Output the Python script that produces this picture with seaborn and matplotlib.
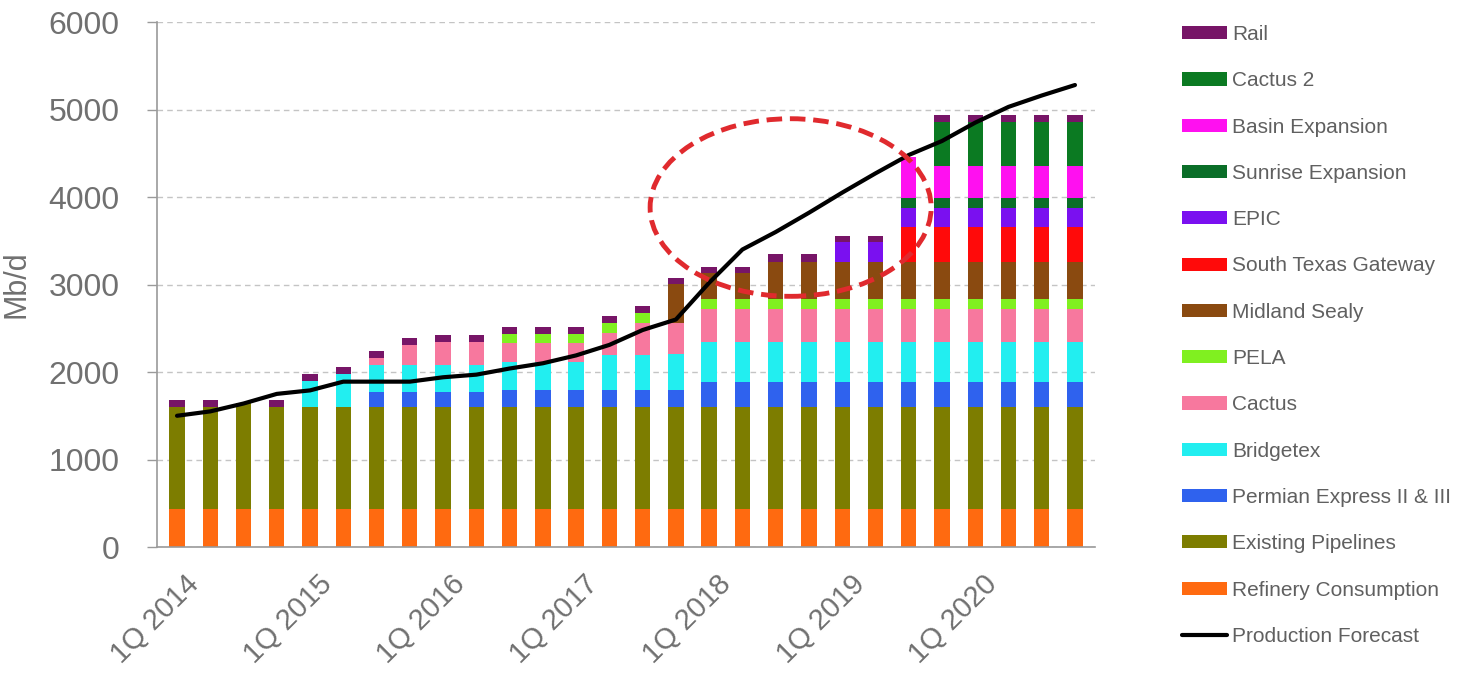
import numpy as np
import pandas as pd
import matplotlib
matplotlib.use("Agg")
import matplotlib.pyplot as plt
from matplotlib.patches import Ellipse, Patch
from matplotlib.lines import Line2D
import matplotlib.transforms as mtransforms
import seaborn as sns

# Quarterly periods, 1Q 2014 .. 4Q 2020
years = list(range(2014, 2021))
quarters = [f"{q}Q {y}" for y in years for q in range(1, 5)]
tick_labels = [f"1Q {y}" for y in years]

# Takeaway capacity by outlet (Mb/d), bottom of stack first
refinery   = [440] * 28
existing   = [1160, 1160, 1210, 1160] + [1160] * 24
permian    = [0] * 6 + [170] * 4 + [200] * 6 + [290] * 12
bridgetex  = [0, 0, 0, 0, 300, 380, 310, 310, 310, 310, 320, 320, 320, 400, 400, 410] + [450] * 12
cactus     = [0] * 6 + [80, 230, 260, 260, 210, 210, 210, 250, 360, 350] + [380] * 12
pela       = [0] * 10 + [110, 110, 110, 115, 115] + [0] + [120] * 12
midland    = [0] * 15 + [450, 290, 290] + [420] * 10
stg        = [0] * 22 + [400] * 6
epic       = [0] * 20 + [230, 230] + [210] * 6
sunrise    = [0] * 22 + [120] * 6
basin      = [0] * 22 + [470] + [370] * 5
cactus2    = [0] * 23 + [500] * 5
rail       = [80, 80, 0, 80, 80, 80, 80, 80, 80, 80, 80, 80, 80, 70, 80, 60,
              75, 75, 90, 90, 70, 70, 0, 80, 80, 80, 80, 80]

# Permian production forecast (Mb/d)
production = [1500, 1550, 1640, 1750, 1790, 1890, 1890, 1890, 1940, 1970,
              2040, 2100, 2190, 2310, 2480, 2600, 3020, 3400, 3600, 3820,
              4050, 4270, 4480, 4640, 4850, 5030, 5160, 5280]

layers = [
    ("Refinery Consumption", refinery, "#ff6a10"),
    ("Existing Pipelines", existing, "#7d7d00"),
    ("Permian Express II & III", permian, "#2f62ee"),
    ("Bridgetex", bridgetex, "#22eef0"),
    ("Cactus", cactus, "#f7789e"),
    ("PELA", pela, "#80f020"),
    ("Midland Sealy", midland, "#8a4a10"),
    ("South Texas Gateway", stg, "#ff0a0a"),
    ("EPIC", epic, "#7a10f0"),
    ("Sunrise Expansion", sunrise, "#0a6e28"),
    ("Basin Expansion", basin, "#ff10f0"),
    ("Cactus 2", cactus2, "#0b7a22"),
    ("Rail", rail, "#771567"),
]

sns.set_style("white")
plt.rcParams["font.family"] = ["Liberation Sans Narrow", "Liberation Sans", "DejaVu Sans"]

fig = plt.figure(figsize=(14.57, 6.86), dpi=100)
ax = fig.add_axes([0.1078, 0.2026, 0.7515 - 0.1078, 0.9679 - 0.2026])

# Stacked bars: draw running totals from the top layer down
df = pd.DataFrame({name: vals for name, vals, _ in layers}, index=quarters)
cum = df.cumsum(axis=1)
for name, _, color in reversed(layers):
    sns.barplot(x=quarters, y=cum[name].values, order=quarters, color=color,
                saturation=1, width=0.46, errorbar=None, ax=ax, linewidth=0,
                zorder=2)

pos = np.arange(len(quarters))
sns.lineplot(x=pos, y=production, color="black", linewidth=3, ax=ax, zorder=4)

ax.add_patch(Ellipse((18.45, 3880), width=8.45, height=2030, fill=False,
                     edgecolor="#e02a2e", linewidth=3.5,
                     linestyle=(0, (3.2, 1.6)), zorder=5))

ax.set_xlim(-0.6, 27.6)
ax.set_ylim(0, 6000)
ax.set_yticks(range(0, 6001, 1000))
ax.yaxis.grid(True, linestyle=(0, (4, 3)), color="#c4c4c4", linewidth=1, zorder=0)
ax.xaxis.grid(False)
ax.set_axisbelow(True)

ax.set_xticks(pos[::4])
ax.set_xticklabels(tick_labels, rotation=45, ha="right", va="center",
                   rotation_mode="anchor", fontsize=21, color="#707070")
ax.set_xticks(np.arange(-0.5, 28, 1), minor=True)
ax.tick_params(axis="x", which="major", length=0, pad=24)
ax.tick_params(axis="x", which="minor", length=7, width=1, color="#9a9a9a")
ax.tick_params(axis="y", length=7, width=1, color="#9a9a9a", pad=20,
               labelsize=23, labelcolor="#707070", left=True)
offset = mtransforms.ScaledTranslation(18 / 100, 0, fig.dpi_scale_trans)
for lbl in ax.get_xticklabels():
    lbl.set_transform(lbl.get_transform() + offset)

ax.set_xlabel("")
ax.set_ylabel("Mb/d", fontsize=22, color="#707070", labelpad=12)

for side in ("top", "right"):
    ax.spines[side].set_visible(False)
for side in ("left", "bottom"):
    ax.spines[side].set_color("#9a9a9a")
    ax.spines[side].set_linewidth(1.2)

handles = [Patch(facecolor=c, edgecolor="none", label=n) for n, _, c in reversed(layers)]
handles.append(Line2D([0], [0], color="black", linewidth=3, label="Production Forecast"))
fig.legend(handles=handles, loc="upper left", bbox_to_anchor=(1182 / 1457, 1 - 25 / 686),
           frameon=False, labelspacing=1.31, handlelength=2.15,
           handleheight=0.6, handletextpad=0.25, borderpad=0, borderaxespad=0,
           prop={"family": ["Liberation Sans", "DejaVu Sans"], "size": 15},
           labelcolor="#606060")

fig.savefig("out.png", dpi=100)
